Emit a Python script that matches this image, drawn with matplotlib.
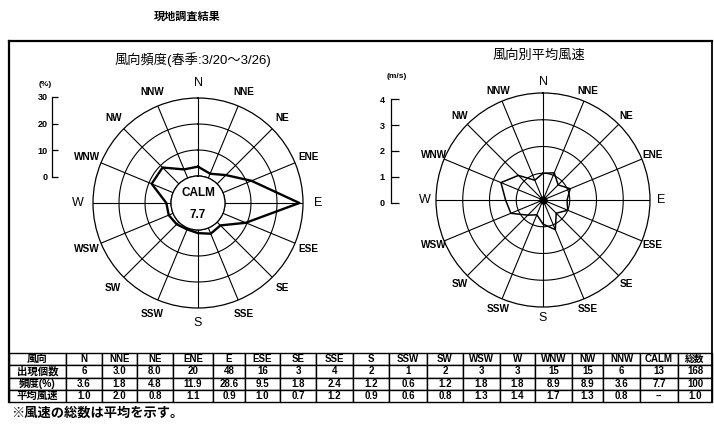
import numpy as np
import matplotlib
matplotlib.use('Agg')
import matplotlib.pyplot as plt

plt.rcParams['font.family'] = ['Liberation Sans', 'Noto Sans CJK JP', 'DejaVu Sans']

# ---------------- data ----------------
directions = ['N', 'NNE', 'NE', 'ENE', 'E', 'ESE', 'SE', 'SSE',
              'S', 'SSW', 'SW', 'WSW', 'W', 'WNW', 'NW', 'NNW']
freq_pct = [3.6, 1.8, 4.8, 11.9, 28.6, 9.5, 1.8, 2.4,
            1.2, 0.6, 1.2, 1.8, 1.8, 8.9, 8.9, 3.6]
calm_pct = 7.7
speed_ms = [1.0, 1.1, 0.8, 1.1, 0.9, 1.0, 0.7, 1.2,
            0.9, 0.6, 0.8, 1.3, 1.4, 1.7, 1.3, 0.8]
freq_ticks = [0, 10, 20, 30]
speed_ticks = [0, 1, 2, 3, 4]

table_header = ['風向'] + directions + ['CALM', '総数']
row_labels = ['出現個数', '頻度(%)', '平均風速']
count_row = ['6', '3.0', '8.0', '20', '48', '16', '3', '4', '2', '1', '2', '3', '3',
             '15', '15', '6', '13', '168']
freq_row = ['3.6', '1.8', '4.8', '11.9', '28.6', '9.5', '1.8', '2.4', '1.2', '0.6',
            '1.2', '1.8', '1.8', '8.9', '8.9', '3.6', '7.7', '100']
speed_row = ['1.0', '2.0', '0.8', '1.1', '0.9', '1.0', '0.7', '1.2', '0.9', '0.6',
             '0.8', '1.3', '1.4', '1.7', '1.3', '0.8', '--', '1.0']

title_main = '現地調査結果'
title_left = '風向頻度(春季:3/20～3/26)'
title_right = '風向別平均風速'
footnote = '※風速の総数は平均を示す。'
unit_left = '(%)'
unit_right = '(m/s)'

# ---------------- figure ----------------
W, H = 714, 434
fig = plt.figure(figsize=(W / 100, H / 100), dpi=100)
fig.patch.set_facecolor('white')


def rect(x0, y0, w, h):
    return [x0 / W, 1 - (y0 + h) / H, w / W, h / H]


ax0 = fig.add_axes([0, 0, 1, 1])
ax0.set_xlim(0, W)
ax0.set_ylim(H, 0)
ax0.axis('off')
ax0.set_autoscale_on(False)

# frame
ax0.plot([9, 712], [41, 41], color='k', lw=1.6)
ax0.plot([9, 9], [41, 402], color='k', lw=1.6)
ax0.plot([712, 712], [41, 402], color='k', lw=1.3)

ax0.text(187, 17, title_main, ha='center', va='center', fontsize=8, fontweight='bold')
ax0.text(193, 60, title_left, ha='center', va='center', fontsize=9.5)
ax0.text(539, 56, title_right, ha='center', va='center', fontsize=9.5)
ax0.text(11, 413, footnote, ha='left', va='center', fontsize=9.5, fontweight='bold')

theta = np.deg2rad(np.arange(len(directions)) * 22.5)
tt = np.linspace(0, 2 * np.pi, 361)
cardinals = {'N', 'E', 'S', 'W'}


def setup_polar(ax):
    ax.set_theta_zero_location('N')
    ax.set_theta_direction(-1)
    ax.set_xticks([])
    ax.set_yticks([])
    ax.grid(False)
    ax.set_facecolor('none')
    ax.set_autoscale_on(False)


# ---------------- left rose: frequency ----------------
axL = fig.add_axes(rect(93, 98, 210, 210), projection='polar')
setup_polar(axL)
rmaxL = freq_ticks[-1]
calm_frac = 27 / 105
axL.set_ylim(0, rmaxL)
axL.set_rorigin(-calm_frac * rmaxL / (1 - calm_frac))
for th in theta:
    axL.plot([th, th], [0, rmaxL], color='k', lw=0.8)
for r in freq_ticks[:-1]:
    axL.plot(tt, np.full_like(tt, r), color='k', lw=0.8)
for s in axL.spines.values():
    s.set_linewidth(0.9)
axL.plot(np.append(theta, theta[0]), np.append(freq_pct, freq_pct[0]),
         color='k', lw=1.7, zorder=5)
for th, d in zip(theta, directions):
    axL.text(th, rmaxL * 1.19, d, ha='center', va='center', clip_on=False,
             fontsize=9 if d in cardinals else 7.2, fontweight='bold' if d not in cardinals else 'normal')
axL.text(0.5, 0.55, 'CALM', transform=axL.transAxes, ha='center', va='center',
         fontsize=8.5, fontweight='bold')
axL.text(0.5, 0.445, f'{calm_pct}', transform=axL.transAxes, ha='center',
         va='center', fontsize=8.5, fontweight='bold')

# ---------------- right rose: mean speed ----------------
axR = fig.add_axes(rect(436, 93, 214, 214), projection='polar')
setup_polar(axR)
rmaxR = speed_ticks[-1]
axR.set_ylim(0, rmaxR)
for th in theta:
    axR.plot([th, th], [0, rmaxR], color='k', lw=0.8)
for r in speed_ticks[1:-1]:
    axR.plot(tt, np.full_like(tt, r), color='k', lw=0.8)
for s in axR.spines.values():
    s.set_linewidth(0.9)
axR.plot(np.append(theta, theta[0]), np.append(speed_ms, speed_ms[0]),
         color='k', lw=1.1, zorder=5)
axR.plot([0], [0], 'o', color='k', ms=5, zorder=6)
for th, d in zip(theta, directions):
    axR.text(th, rmaxR * 1.105, d, ha='center', va='center', clip_on=False,
             fontsize=9 if d in cardinals else 7.2, fontweight='bold' if d not in cardinals else 'normal')


# ---------------- scale bars ----------------
def scale_bar(r, ticks, length, pad):
    ax = fig.add_axes(r)
    ax.set_ylim(ticks[0], ticks[-1])
    ax.set_xlim(0, 1)
    for k in ['top', 'right', 'bottom']:
        ax.spines[k].set_visible(False)
    ax.spines['left'].set_linewidth(0.9)
    ax.set_xticks([])
    ax.set_yticks(ticks)
    ax.tick_params(axis='y', direction='in', length=length, width=0.9,
                   labelsize=6.5, pad=pad)
    for lab in ax.get_yticklabels():
        lab.set_fontweight('bold')
    ax.patch.set_visible(False)
    return ax


scale_bar(rect(52, 97, 12, 80), freq_ticks, 4.5, 3)
ax0.text(45, 84, unit_left, ha='center', va='center', fontsize=6, fontweight='bold')
scale_bar(rect(391, 99, 12, 104), speed_ticks, 6, 4.5)
ax0.text(397, 77, unit_right, ha='center', va='center', fontsize=6, fontweight='bold')

# ---------------- table ----------------
edges = [9, 66, 102, 137, 173, 213, 245, 280, 316, 353, 389, 427, 463,
         500, 535, 572, 603, 640, 678, 712]
widths = np.diff(edges) / (edges[-1] - edges[0])
cell_text = [[row_labels[0]] + count_row,
             [row_labels[1]] + freq_row,
             [row_labels[2]] + speed_row]
tbl = ax0.table(cellText=cell_text, colLabels=table_header, colWidths=list(widths),
                cellLoc='center',
                bbox=[edges[0] / W, (H - 402) / H, (edges[-1] - edges[0]) / W, 49 / H])
tbl.auto_set_font_size(False)
for (i, j), cell in tbl.get_celld().items():
    cell.set_linewidth(1.0)
    cell.set_edgecolor('k')
    t = cell.get_text()
    t.set_fontweight('bold')
    if j == 0:
        t.set_fontsize(7.5)
    else:
        t.set_fontsize(7)

fig.savefig('out.png', dpi=100)
